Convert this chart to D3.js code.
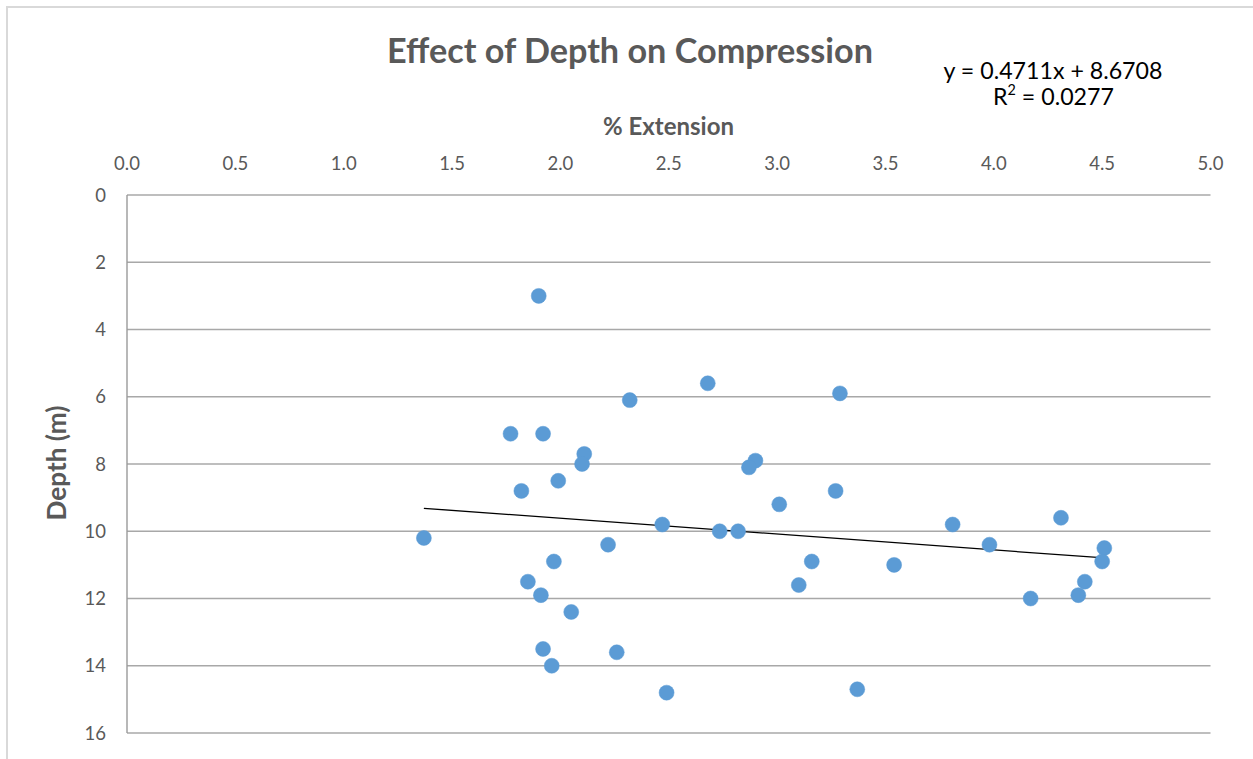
<!DOCTYPE html>
<html>
<head>
<meta charset="utf-8">
<script src="https://cdn.jsdelivr.net/npm/d3@7"></script>
<style>
  html, body { margin: 0; padding: 0; background: #fff; }
  svg { display: block; }
  text { font-family: Lato, "Open Sans", sans-serif; }
</style>
</head>
<body>
<svg id="chart" width="1253" height="759"></svg>
<script>
// ---- data ----
const extension = [1.90, 2.68, 3.29, 2.32, 1.77, 1.92, 2.11, 2.10, 2.90, 2.87,
                   1.99, 1.82, 3.27, 3.01, 4.31, 2.47, 3.81, 2.735, 2.82, 1.37,
                   2.22, 3.98, 4.51, 1.97, 3.16, 4.50, 3.54, 1.85, 4.42, 3.10,
                   1.91, 4.39, 4.17, 2.05, 1.92, 2.26, 1.96, 3.37, 2.49];
const depth =     [3.0, 5.6, 5.9, 6.1, 7.1, 7.1, 7.7, 8.0, 7.9, 8.1,
                   8.5, 8.8, 8.8, 9.2, 9.6, 9.8, 9.8, 10.0, 10.0, 10.2,
                   10.4, 10.4, 10.5, 10.9, 10.9, 10.9, 11.0, 11.5, 11.5, 11.6,
                   11.9, 11.9, 12.0, 12.4, 13.5, 13.6, 14.0, 14.7, 14.8];
const xTicks = [0.0, 0.5, 1.0, 1.5, 2.0, 2.5, 3.0, 3.5, 4.0, 4.5, 5.0];
const yTicks = [0, 2, 4, 6, 8, 10, 12, 14, 16];
const trendSlope = 0.4711;
const trendIntercept = 8.6708;
const trendLabel = "y = 0.4711x + 8.6708";
const r2Value = "0.0277";
const titleText = "Effect of Depth on Compression";
const xTitle = "% Extension";
const yTitle = "Depth (m)";

// ---- layout ----
const svg = d3.select("#chart");
const plot = { left: 127, top: 195, right: 1210.5, bottom: 733 };
const x = d3.scaleLinear().domain([0, 5]).range([plot.left, plot.right]);
const y = d3.scaleLinear().domain([0, 16]).range([plot.top, plot.bottom]);
const textGray = "#595959";

// chart frame
svg.append("rect").attr("x", 0).attr("y", 0).attr("width", 1253).attr("height", 759).attr("fill", "#fff");
svg.append("rect").attr("x", 7).attr("y", 7).attr("width", 1260).attr("height", 780)
   .attr("fill", "none").attr("stroke", "#d9d9d9").attr("stroke-width", 2);

function fitText(sel, target) {
  const node = sel.node();
  const w = node.getComputedTextLength();
  const fs = parseFloat(sel.attr("font-size"));
  const nfs = fs * target / w;
  sel.attr("font-size", nfs);
  return nfs;
}

// gridlines
svg.append("g").selectAll("line").data(yTicks).join("line")
   .attr("x1", plot.left).attr("x2", plot.right)
   .attr("y1", d => y(d)).attr("y2", d => y(d))
   .attr("stroke", "#a8a8a8").attr("stroke-width", 1.4);

// y axis line
svg.append("line").attr("x1", plot.left).attr("x2", plot.left)
   .attr("y1", y(0)).attr("y2", y(16))
   .attr("stroke", "#9a9a9a").attr("stroke-width", 1.4);

// x tick labels (top)
svg.append("g").selectAll("text").data(xTicks).join("text")
   .attr("x", d => x(d)).attr("y", 170)
   .attr("text-anchor", "middle").attr("font-size", 18.5).attr("fill", textGray)
   .text(d => d3.format(".1f")(d));

// y tick labels
svg.append("g").selectAll("text").data(yTicks).join("text")
   .attr("x", 106).attr("y", d => y(d) + 6.5)
   .attr("text-anchor", "end").attr("font-size", 18.5).attr("fill", textGray)
   .text(d => d);

// trendline
const xExt = d3.extent(extension);
svg.append("line")
   .attr("x1", x(xExt[0])).attr("y1", y(trendSlope * xExt[0] + trendIntercept))
   .attr("x2", x(xExt[1])).attr("y2", y(trendSlope * xExt[1] + trendIntercept))
   .attr("stroke", "#000").attr("stroke-width", 1.25);

// points
svg.append("g").selectAll("circle").data(extension.map((v, i) => [v, depth[i]])).join("circle")
   .attr("cx", d => x(d[0])).attr("cy", d => y(d[1])).attr("r", 7.5)
   .attr("fill", "#5b9bd5").attr("stroke", "#5b9bd5").attr("stroke-width", 0.5);

// title
const t = svg.append("text").attr("x", 630).attr("y", 62.5)
   .attr("text-anchor", "middle").attr("font-size", 29).attr("font-weight", "bold")
   .attr("fill", textGray).text(titleText);
fitText(t, 486);

// x axis title
const xt = svg.append("text").attr("x", 668.5).attr("y", 135)
   .attr("text-anchor", "middle").attr("font-size", 21).attr("font-weight", "bold")
   .attr("fill", textGray).text(xTitle);
fitText(xt, 131);

// y axis title
const yt = svg.append("text").attr("transform", "translate(66,463) rotate(-90)")
   .attr("text-anchor", "middle").attr("font-size", 21).attr("font-weight", "bold")
   .attr("fill", textGray).text(yTitle);
fitText(yt, 115);

// trendline equation
const eq = svg.append("text").attr("x", 1053).attr("y", 78.5)
   .attr("text-anchor", "middle").attr("font-size", 20).attr("fill", "#000")
   .text(trendLabel);
const eqFs = fitText(eq, 219);
const r2 = svg.append("text").attr("x", 1053.5).attr("y", 104.5)
   .attr("text-anchor", "middle").attr("font-size", eqFs).attr("fill", "#000");
r2.append("tspan").text("R");
r2.append("tspan").attr("font-size", eqFs * 0.62).attr("dy", -eqFs * 0.4).text("2");
r2.append("tspan").attr("dy", eqFs * 0.4).text(" = " + r2Value);
</script>
</body>
</html>
